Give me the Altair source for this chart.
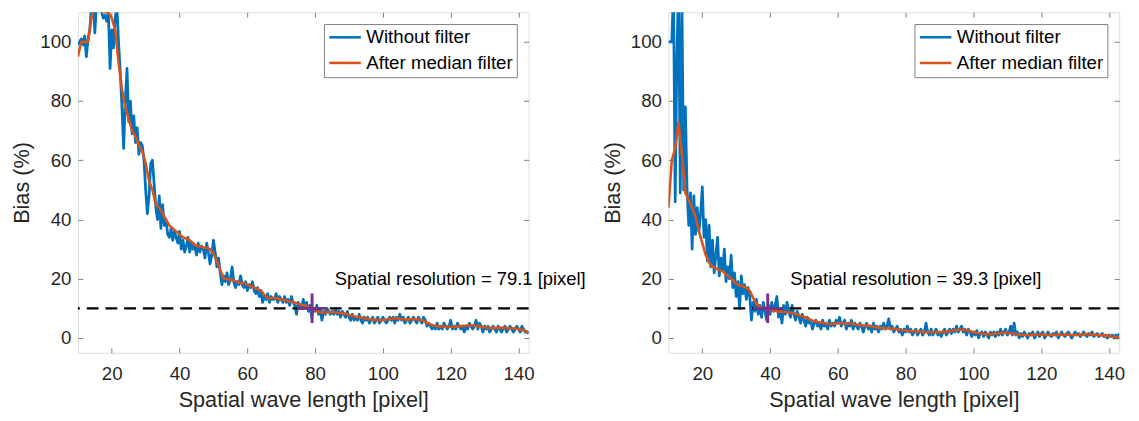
import altair as alt
import pandas as pd

# ---------------- data ----------------
RAW_X_START = 10
RAW_X_STEP = 0.5
MED_X_START = 10
MED_X_STEP = 1

left_raw = [
    99, 100, 101, 99, 102, 95, 101, 104, 112, 115, 103, 113, 118, 116, 110, 108, 109, 107, 110, 91,
    104, 98, 108, 112, 100, 90, 78, 64, 80, 91, 73, 80, 69, 75, 66, 71, 62, 66, 65, 60,
    50, 42, 48, 59, 60, 52, 44, 40, 48, 37, 45, 38, 40, 35, 34, 37, 33, 36, 34, 32,
    36, 30, 33, 29, 31, 34, 29, 32, 30, 31, 28, 32, 29, 31, 30, 27, 32, 29, 25, 28,
    33, 29, 24, 27, 22, 18, 21, 19, 22, 18, 20, 24, 19, 17, 19, 18, 21, 18, 17, 19,
    16, 18, 17, 19, 16, 15, 17, 14, 16, 12, 14, 13, 15, 12, 14, 13, 13, 15, 12, 14,
    13, 12, 14, 12, 13, 11, 14, 12, 11, 8, 12, 11, 10, 13, 10, 12, 9, 11, 7, 10,
    9, 11, 8, 10, 6, 9, 8, 10, 9, 8, 9, 8, 10, 8, 9, 7, 9, 8, 7, 9,
    7, 6, 8, 6, 7, 6, 8, 6, 5, 7, 6, 7, 5, 6, 7, 5, 6, 7, 5, 6,
    7, 6, 5, 6, 7, 6, 7, 5, 7, 6, 8, 6, 7, 5, 6, 7, 5, 6, 7, 6,
    5, 7, 6, 5, 7, 6, 4, 5, 4, 3, 4, 3, 5, 3, 4, 3, 5, 4, 3, 4,
    6, 3, 4, 3, 5, 4, 3, 4, 2, 4, 3, 5, 4, 3, 4, 6, 3, 5, 4, 2,
    4, 3, 4, 2, 3, 4, 3, 2, 4, 3, 2, 3, 4, 2, 3, 4, 3, 2, 3, 4,
    3, 2, 4, 3, 2, 2, 1.5,
]

left_median = [
    95, 100, 100, 100, 108, 112, 113, 111, 110, 110, 108, 104, 93, 84, 78, 74, 70, 68, 65, 63,
    59, 53, 50, 45, 44, 42, 40, 38, 37, 36, 35, 34, 33.5, 33, 32, 31, 31, 30.5, 30.5, 30,
    28.5, 26, 23, 20, 20, 19.5, 19.5, 19, 18.5, 18.5, 18, 17.5, 17, 16.5, 16, 14.5, 13.5, 13.5, 13.5, 13.3,
    13, 12.8, 12.5, 12.2, 12, 11.5, 11.2, 11, 10.5, 10, 9.5, 8.8, 8.5, 8.6, 8.7, 8.8, 8.6, 8.5, 8.3, 8.2,
    7.8, 7.5, 7.2, 7.0, 6.8, 6.5, 6.3, 6.2, 6.1, 6.0, 6.1, 6.2, 6.4, 6.6, 6.7, 6.5, 6.3, 6.2, 6.3, 6.4,
    6.3, 6.1, 5.8, 5.2, 4.6, 4.2, 4.0, 3.9, 3.9, 3.9, 3.8, 3.8, 3.9, 4.0, 4.1, 4.2, 4.3, 4.2, 4.0, 3.8,
    3.6, 3.5, 3.4, 3.4, 3.5, 3.5, 3.4, 3.3, 3.3, 3.2, 3.0, 2.8, 2.4, 1.9,
]

right_raw = [
    100, 100, 100, 118, 46, 95, 120, 49, 112, 50, 78, 50, 38, 49, 30, 48, 35, 44, 36, 42,
    51, 34, 40, 26, 38, 24, 33, 22, 28, 34, 21, 27, 23, 30, 19, 24, 20, 28, 17, 22,
    14, 19, 10, 21, 15, 18, 13, 17, 14, 6, 12, 9, 13, 8, 11, 7, 12, 9, 6, 11,
    8, 12, 9, 11, 14, 7, 10, 5, 11, 8, 12, 9, 7, 11, 8, 6, 9, 7, 5, 8,
    6, 4, 7, 5, 6, 3, 5, 6, 4, 5, 3, 6, 4, 5, 3, 6, 4, 5, 4, 6,
    5, 7, 4, 5, 6, 3, 5, 4, 6, 3, 5, 4, 3, 5, 4, 2, 4, 5, 3, 4,
    2, 5, 3, 4, 2, 4, 3, 5, 3, 4, 6.5, 3, 4, 2, 3, 4, 2, 3, 1, 3,
    2, 4, 2, 3, 1, 2, 3, 1, 2, 3, 1, 2, 5, 2, 1, 3, 1, 2, 3, 1,
    2, 0.5, 2, 3, 1, 2, 3, 1.5, 3, 2, 4, 2, 3, 4, 2, 3, 1, 3, 2, 0.5,
    2, 1, 2.5, 0, 1.5, 2, 0.5, 2, 1, 0, 2, 1, 2, 0.5, 2, 1, 3, 1, 2, 3,
    1, 2, 4, 1, 5, 1, 2, 0, 1.5, 0.5, 2, 1, 0, 1.5, 1, 2, 0, 1, 2, 0.5,
    1.5, 2, 0, 1, 2, 1, 0.5, 1.5, 1, 2, 0, 1, 2, 1, 0.5, 1.5, 2, 1, 0, 1,
    2, 1, 1.5, 0.5, 1, 2, 1, 0.5, 1.5, 1, 2, 0.5, 1, 1.5, 0.5, 1, 1.5, 0.5, 1, 0,
    1, 0.5, 1, 0, 1, 0, 1.5,
]

right_median = [
    44, 60, 64, 73, 62, 49, 46.5, 44, 41, 36, 32, 28, 25.5, 24, 23.5, 23, 22.5, 21.5, 20.5, 19.5,
    18.3, 17.8, 17.4, 17, 16, 13.5, 11.5, 10.5, 10.2, 10, 9.6, 9.3, 9, 8.9, 8.8, 8.7, 8.5, 8.4, 7.9, 7.5,
    7.1, 6.8, 6.1, 5.7, 5.4, 5.2, 5.0, 4.8, 4.7, 4.8, 5.0, 5.0, 4.9, 5.0, 4.8, 4.6, 4.4, 4.3, 4.2, 4.1,
    4.0, 3.6, 3.5, 3.4, 3.3, 3.2, 3.1, 3.0, 2.8, 2.6, 2.5, 2.4, 2.3, 2.2, 2.1, 2.0, 2.0, 1.9, 1.9, 1.9,
    1.9, 2.0, 2.1, 2.3, 2.5, 2.7, 2.8, 2.8, 2.6, 2.3, 2.0, 1.7, 1.5, 1.4, 1.3, 1.3, 1.4, 1.5, 1.6, 1.8,
    1.8, 1.6, 1.4, 1.2, 1.1, 1.0, 1.0, 1.0, 1.1, 1.2, 1.2, 1.1, 1.0, 1.0, 1.0, 1.1, 1.2, 1.2, 1.1, 1.0,
    1.0, 1.1, 1.2, 1.3, 1.3, 1.2, 1.1, 1.0, 0.9, 0.8, 0.7, 0.5, 0.3, 0.1,
]

resolutions = [79.1, 39.3]
threshold = [10]
annotation_y = [20]
x_ticks = [20, 40, 60, 80, 100, 120, 140]
y_ticks = [0, 20, 40, 60, 80, 100]
x_domain = [10, 143]
y_domain = [-5, 110]
series_names = ["Without filter", "After median filter"]
series_colors = ["#0072BD", "#D95319"]

FONT = "Liberation Sans"
FRAME = "#808080"
TEXT = "#262626"


def panel(raw, med, res):
    df_raw = pd.DataFrame({
        "x": [RAW_X_START + RAW_X_STEP * i for i in range(len(raw))],
        "y": raw,
        "series": series_names[0],
    })
    df_med = pd.DataFrame({
        "x": [MED_X_START + MED_X_STEP * i for i in range(len(med))],
        "y": med,
        "series": series_names[1],
    })
    df_pt = pd.DataFrame({"x": [res], "y": threshold})
    df_rule = pd.DataFrame({"y": threshold})
    df_txt = pd.DataFrame({"x": [res], "y": annotation_y,
                           "label": [f"Spatial resolution = {res} [pixel]"]})

    xs = alt.Scale(domain=x_domain, nice=False, zero=False)
    ys = alt.Scale(domain=y_domain, nice=False, zero=False)

    legend = alt.Legend(
        orient="top-right", offset=12, title=None,
        labelFontSize=19, labelFont=FONT, labelColor="black",
        symbolType="M-1,0H3", symbolSize=256, symbolStrokeWidth=2.6,
        strokeColor=FRAME, fillColor="white", padding=4, rowPadding=6,
        labelOffset=20, cornerRadius=0,
    )
    color = alt.Color("series:N", scale=alt.Scale(domain=series_names, range=series_colors),
                      legend=legend)

    ax_bottom = alt.Axis(
        orient="bottom", values=x_ticks, offset=-5, tickSize=5, tickColor=FRAME,
        tickWidth=1, domain=False, grid=False, labelFlush=False,
        labelFontSize=19, labelFont=FONT, labelColor=TEXT, labelPadding=12,
        title="Spatial wave length [pixel]", titleFontSize=22, titleFont=FONT,
        titleColor=TEXT, titleFontWeight="normal", titlePadding=7,
    )
    ax_left = alt.Axis(
        orient="left", values=y_ticks, offset=-5, tickSize=5, tickColor=FRAME,
        tickWidth=1, domain=False, grid=False,
        labelFontSize=19, labelFont=FONT, labelColor=TEXT, labelPadding=7,
        title="Bias (%)", titleFontSize=22, titleFont=FONT,
        titleColor=TEXT, titleFontWeight="normal", titlePadding=6,
    )
    ax_top = alt.Axis(orient="top", values=x_ticks, offset=-5, tickSize=5, tickColor=FRAME,
                      tickWidth=1, domain=False, grid=False, labels=False, title=None)
    ax_right = alt.Axis(orient="right", values=y_ticks, offset=-5, tickSize=5, tickColor=FRAME,
                        tickWidth=1, domain=False, grid=False, labels=False, title=None)

    blue = alt.Chart(df_raw).mark_line(strokeWidth=2.8, clip=True, strokeJoin="round").encode(
        x=alt.X("x:Q", scale=xs, axis=ax_bottom),
        y=alt.Y("y:Q", scale=ys, axis=ax_left),
        color=color,
    )
    orange = alt.Chart(df_med).mark_line(strokeWidth=2.6, clip=True, strokeJoin="round").encode(
        x=alt.X("x:Q", scale=xs, axis=None),
        y=alt.Y("y:Q", scale=ys, axis=None),
        color=color,
    )
    rule = alt.Chart(df_rule).mark_rule(color="black", strokeWidth=2.5, strokeDash=[12, 7]).encode(
        y=alt.Y("y:Q", scale=ys, axis=ax_right),
    )
    cross = alt.Chart(df_pt).mark_point(
        shape="M-1,0L1,0M0,-1L0,1", size=900, stroke="#7E2F8E", strokeWidth=3,
        filled=False, opacity=1,
    ).encode(
        x=alt.X("x:Q", scale=xs, axis=ax_top),
        y=alt.Y("y:Q", scale=ys, axis=None),
    )
    text = alt.Chart(df_txt).mark_text(
        align="left", baseline="middle", dx=23, fontSize=18.7, font=FONT, color="black",
    ).encode(
        x=alt.X("x:Q", scale=xs, axis=None),
        y=alt.Y("y:Q", scale=ys, axis=None),
        text="label:N",
    )
    return alt.layer(blue, orange, rule, cross, text).resolve_axis(
        x="independent", y="independent"
    ).properties(width=458, height=346)


chart = alt.hconcat(
    panel(left_raw, left_median, resolutions[0]),
    panel(right_raw, right_median, resolutions[1]),
    spacing=142,
    bounds="flush",
).resolve_scale(color="independent").resolve_legend(color="independent").properties(
    padding={"left": 2, "top": 0, "right": 5, "bottom": 5},
).configure_view(stroke=FRAME, strokeWidth=1).configure(background="white")

chart.save("out.html", embed_options={"renderer": "svg", "actions": False})
